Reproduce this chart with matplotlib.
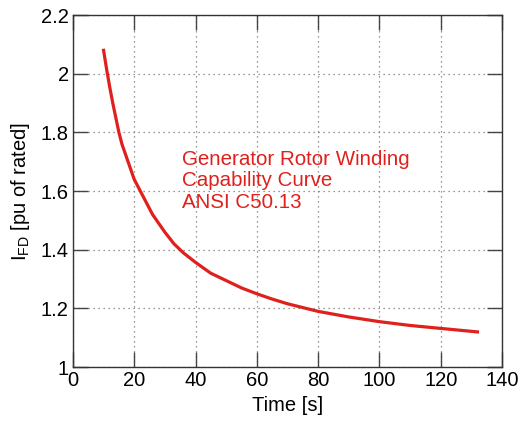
import matplotlib
matplotlib.use("Agg")
import matplotlib.pyplot as plt

# rotor winding capability curve
time_s = [10, 11, 12, 13, 14, 15, 16, 18, 20, 22, 24, 26, 28, 30, 33, 36, 40, 45,
          50, 55, 60, 65, 70, 75, 80, 90, 100, 110, 120, 132]
ifd_pu = [2.08, 2.015, 1.955, 1.90, 1.85, 1.80, 1.76, 1.70, 1.64, 1.60, 1.56, 1.52,
          1.49, 1.46, 1.42, 1.39, 1.357, 1.32, 1.295, 1.27, 1.25, 1.232, 1.216,
          1.203, 1.19, 1.171, 1.155, 1.142, 1.132, 1.12]

xticks = [0, 20, 40, 60, 80, 100, 120, 140]
yticks = [1, 1.2, 1.4, 1.6, 1.8, 2, 2.2]
ytick_labels = ["1", "1.2", "1.4", "1.6", "1.8", "2", "2.2"]

plt.rcParams["font.family"] = ["Liberation Sans", "DejaVu Sans"]
plt.rcParams["mathtext.fontset"] = "custom"
plt.rcParams["mathtext.rm"] = "Liberation Sans"

red = "#e0201c"

fig = plt.figure(figsize=(5.21, 4.21), dpi=100)
ax = fig.add_axes([0.140, 0.128, 0.8235, 0.836])

ax.plot(time_s, ifd_pu, color=red, lw=2.3, solid_joinstyle="round")

ax.set_xlim(0, 140)
ax.set_ylim(1, 2.2)
ax.set_xticks(xticks)
ax.set_yticks(yticks)
ax.set_yticklabels(ytick_labels)
ax.grid(True, ls=(0, (1, 3)), color="#777777", lw=0.9)
ax.tick_params(direction="in", length=11, width=1, color="#444444",
               top=True, right=True, labelsize=14.5, pad=3)
for s in ax.spines.values():
    s.set_linewidth(1.0)
    s.set_color("#333333")

ax.set_xlabel("Time [s]", fontsize=14.5, labelpad=4)
ax.set_ylabel(r"I$_{\mathrm{FD}}$ [pu of rated]", fontsize=14.5, labelpad=6)

ax.text(35.5, 1.635, "Generator Rotor Winding\nCapability Curve\nANSI C50.13",
        color=red, fontsize=14.8, va="center", ha="left", linespacing=1.15)

fig.savefig("out.png", dpi=100)
